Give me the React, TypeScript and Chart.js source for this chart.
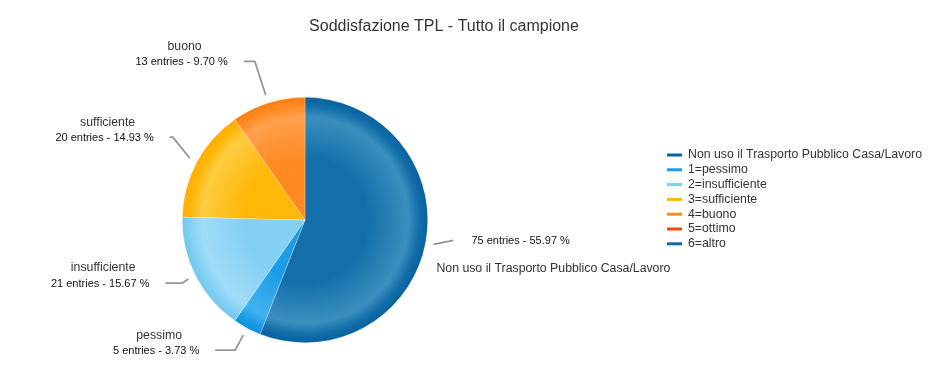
import React, { useEffect, useRef } from "react";
import { Chart, registerables } from "chart.js";

Chart.register(...registerables);

const chartTitle = "Soddisfazione TPL - Tutto il campione";
const legendLabels = [
  "Non uso il Trasporto Pubblico Casa/Lavoro",
  "1=pessimo",
  "2=insufficiente",
  "3=sufficiente",
  "4=buono",
  "5=ottimo",
  "6=altro",
];
const sliceNames = [
  "Non uso il Trasporto Pubblico Casa/Lavoro",
  "pessimo",
  "insufficiente",
  "sufficiente",
  "buono",
  "ottimo",
  "altro",
];
const entries = [75, 5, 21, 20, 13, 0, 0];

const baseColors = ["#136ea9", "#1e9de6", "#84d0f3", "#ffb708", "#ff8a22", "#e85000", "#0e67a4"];
const lightColors = ["#3a8fbf", "#42b2ef", "#a0dcf7", "#ffcb40", "#ffa04e", "#f07030", "#3a8fbf"];
const darkColors = ["#05609e", "#0a8fdc", "#72c6ee", "#ffae00", "#fb7e10", "#d84800", "#05609e"];
const legendColors = ["#0b63a3", "#1a9fe8", "#7ecdf2", "#ffb800", "#ff8a1e", "#e84c00", "#0e68a6"];

// leader-line layout: elbow offset from the start point, horizontal run, side
const leaderLayout = [
  { dx: 20, dy: -4, run: 0, side: 1 },
  { dx: -8, dy: 15, run: 20, side: -1 },
  { dx: -6, dy: 4, run: 17, side: -1 },
  { dx: -17, dy: -21, run: 3, side: -1 },
  { dx: -11, dy: -34, run: 11, side: -1 },
  { dx: 0, dy: 0, run: 0, side: 1 },
  { dx: 0, dy: 0, run: 0, side: 1 },
];

const FONT = "'Liberation Sans', Arial, sans-serif";

function geom(chart: any) {
  const a = chart.chartArea;
  return {
    cx: (a.left + a.right) / 2,
    cy: (a.top + a.bottom) / 2,
    r: Math.min(a.right - a.left, a.bottom - a.top) / 2,
  };
}

const decorPlugin = {
  id: "decor",
  afterDraw(chart: any) {
    const ctx = chart.ctx as CanvasRenderingContext2D;
    const total = entries.reduce((s, v) => s + v, 0);
    const meta = chart.getDatasetMeta(0);
    ctx.save();

    // title
    ctx.fillStyle = "#333";
    ctx.font = `16px ${FONT}`;
    ctx.textAlign = "center";
    ctx.textBaseline = "middle";
    ctx.fillText(chartTitle, 444, 27);

    // labels
    meta.data.forEach((arc: any, i: number) => {
      if (!entries[i]) return;
      const { x, y, startAngle, endAngle, outerRadius } = arc.getProps(
        ["x", "y", "startAngle", "endAngle", "outerRadius"],
        true
      );
      const mid = (startAngle + endAngle) / 2;
      const sx = x + Math.cos(mid) * (outerRadius + 8);
      const sy = y + Math.sin(mid) * (outerRadius + 8);
      const L = leaderLayout[i];
      const ex = sx + L.dx;
      const ey = sy + L.dy;
      const hx = ex + L.side * L.run;
      ctx.strokeStyle = "#959595";
      ctx.lineWidth = 1.8;
      ctx.beginPath();
      ctx.moveTo(sx, sy);
      ctx.lineTo(ex, ey);
      ctx.lineTo(hx, ey);
      ctx.stroke();

      const pct = ((entries[i] / total) * 100).toFixed(2);
      const valueText = `${entries[i]} entries - ${pct} %`;
      ctx.textBaseline = "middle";
      if (L.side < 0) {
        ctx.font = `11px ${FONT}`;
        ctx.fillStyle = "#111";
        ctx.textAlign = "right";
        const tr = hx - 16;
        ctx.fillText(valueText, tr, ey + 1);
        const w = ctx.measureText(valueText).width;
        ctx.font = `12.3px ${FONT}`;
        ctx.fillStyle = "#333";
        ctx.textAlign = "center";
        ctx.fillText(sliceNames[i], tr - w / 2 + 3, ey - 15);
      } else {
        ctx.font = `11px ${FONT}`;
        ctx.fillStyle = "#111";
        ctx.textAlign = "left";
        ctx.fillText(valueText, hx + 18, ey + 1);
        ctx.font = `12.3px ${FONT}`;
        ctx.fillStyle = "#333";
        ctx.fillText(sliceNames[i], sx + 3, ey + 28);
      }
    });

    // legend
    ctx.textAlign = "left";
    ctx.textBaseline = "middle";
    ctx.font = `12.3px ${FONT}`;
    legendLabels.forEach((lab, i) => {
      const ly = 155 + i * 14.8;
      ctx.fillStyle = legendColors[i];
      ctx.fillRect(667, ly - 1.5, 15, 3);
      ctx.fillStyle = "#333";
      ctx.fillText(lab, 688, ly);
    });
    ctx.restore();
  },
};

export default function App() {
  const ref = useRef<HTMLCanvasElement | null>(null);
  useEffect(() => {
    if (!ref.current) return;
    const chart = new Chart(ref.current, {
      type: "pie",
      data: {
        labels: legendLabels,
        datasets: [
          {
            data: entries,
            borderWidth: 0.6,
            borderColor: "rgba(255,255,255,0.45)",
            backgroundColor: (c: any) => {
              const ch = c.chart;
              const i = c.dataIndex;
              if (!ch.chartArea) return baseColors[i];
              const { cx, cy, r } = geom(ch);
              const g = ch.ctx.createRadialGradient(cx, cy, 0, cx, cy, r);
              g.addColorStop(0, baseColors[i]);
              g.addColorStop(0.5, baseColors[i]);
              g.addColorStop(0.84, lightColors[i]);
              g.addColorStop(0.93, baseColors[i]);
              g.addColorStop(1, darkColors[i]);
              return g;
            },
          },
        ],
      },
      options: {
        responsive: false,
        maintainAspectRatio: false,
        animation: false,
        layout: { padding: { left: 182, right: 522, top: 97, bottom: 37 } },
        plugins: {
          legend: { display: false },
          title: { display: false },
          tooltip: { enabled: false },
        },
      },
      plugins: [decorPlugin],
    });
    return () => chart.destroy();
  }, []);
  return (
    <div style={{ position: "fixed", left: 0, top: 0, width: 950, height: 380, background: "#fff" }}>
      <canvas ref={ref} width={950} height={380} style={{ width: 950, height: 380 }} />
    </div>
  );
}
